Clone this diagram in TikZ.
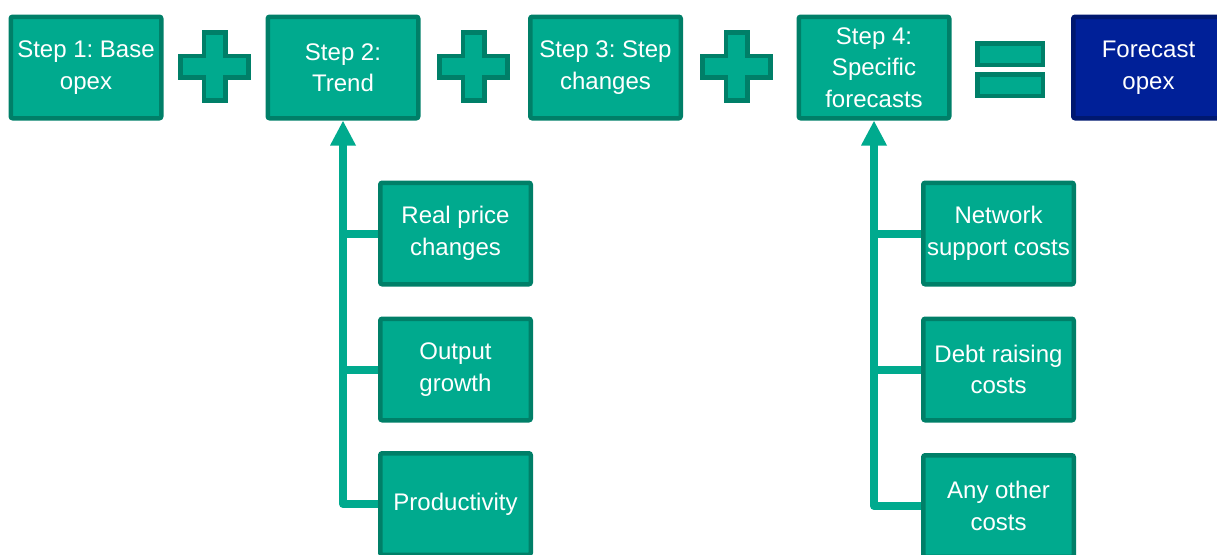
\documentclass[tikz,border=0pt]{standalone}
\usepackage{fontspec}
\setmainfont{Liberation Sans}
\usetikzlibrary{arrows.meta}
\frenchspacing

\definecolor{tealfill}{RGB}{0,170,142}
\definecolor{tealedge}{RGB}{0,127,104}
\definecolor{navyfill}{RGB}{0,32,152}
\definecolor{navyedge}{RGB}{0,24,112}

\tikzset{
    stepbox/.style={draw=tealedge, fill=tealfill, line width=4.5pt, rounded corners=2pt,
        minimum width=150.5pt, minimum height=101.5pt, inner sep=0pt, align=center,
        text=white, font=\fontsize{24}{31.5}\selectfont},
    resultbox/.style={stepbox, draw=navyedge, fill=navyfill},
    sign/.style={draw=tealedge, fill=tealfill, line width=4.5pt},
    conn/.style={draw=tealfill, line width=8pt, line join=round, line cap=butt},
    feed/.style={conn, -{Triangle[width=24pt,length=25pt]}}
}

\begin{document}
\begin{tikzpicture}[x=1pt, y=-1pt]
        \useasboundingbox (0,0) rectangle (1217,554);

        % Top row
        \node[stepbox] (base) at (86,67.5) {Step 1: Base\\opex};
        \node[stepbox] (trend) at (343,67.5) {Step 2:\\Trend};
        \node[stepbox] (change) at (605.5,67.5) {Step 3: Step\\changes};
        \node[stepbox] (specific) at (874,67.5) {Step 4:\\Specific\\forecasts};
        \node[resultbox] (forecast) at (1148.5,67.5) {Forecast\\opex};

        % Plus and equal signs
        \draw[sign, shift={(214.5,66.5)}] (-10.75,-34) -- (10.75,-34) -- (10.75,-10.75) -- (34,-10.75) -- (34,10.75) -- (10.75,10.75) -- (10.75,34) -- (-10.75,34) -- (-10.75,10.75) -- (-34,10.75) -- (-34,-10.75) -- (-10.75,-10.75) -- cycle;
        \draw[sign, shift={(473.5,66.5)}] (-10.75,-34) -- (10.75,-34) -- (10.75,-10.75) -- (34,-10.75) -- (34,10.75) -- (10.75,10.75) -- (10.75,34) -- (-10.75,34) -- (-10.75,10.75) -- (-34,10.75) -- (-34,-10.75) -- (-10.75,-10.75) -- cycle;
        \draw[sign, shift={(736.5,66.5)}] (-10.75,-34) -- (10.75,-34) -- (10.75,-10.75) -- (34,-10.75) -- (34,10.75) -- (10.75,10.75) -- (10.75,34) -- (-10.75,34) -- (-10.75,10.75) -- (-34,10.75) -- (-34,-10.75) -- (-10.75,-10.75) -- cycle;
        \draw[sign] (977.25,43.25) rectangle (1042.75,64.75);
        \draw[sign] (977.25,74.25) rectangle (1042.75,95.75);

        % Trend inputs
        \node[stepbox] (price) at (455.5,233.5) {Real price\\changes};
        \node[stepbox] (output) at (455.5,369.5) {Output\\growth};
        \node[stepbox] (productivity) at (455.5,504) {Productivity};

        % Specific forecast inputs
        \node[stepbox] (network) at (998.5,233.5) {Network\\support costs};
        \node[stepbox] (debt) at (998.5,369.5) {Debt raising\\costs};
        \node[stepbox] (other) at (998.5,506) {Any other\\costs};

        % Connectors
        \draw[feed] (productivity.west) -| (trend.south);
        \draw[conn] (price.west) -- (price.west -| trend.south);
        \draw[conn] (output.west) -- (output.west -| trend.south);
        \draw[feed] (other.west) -| (specific.south);
        \draw[conn] (network.west) -- (network.west -| specific.south);
        \draw[conn] (debt.west) -- (debt.west -| specific.south);

    \end{tikzpicture}
\end{document}
